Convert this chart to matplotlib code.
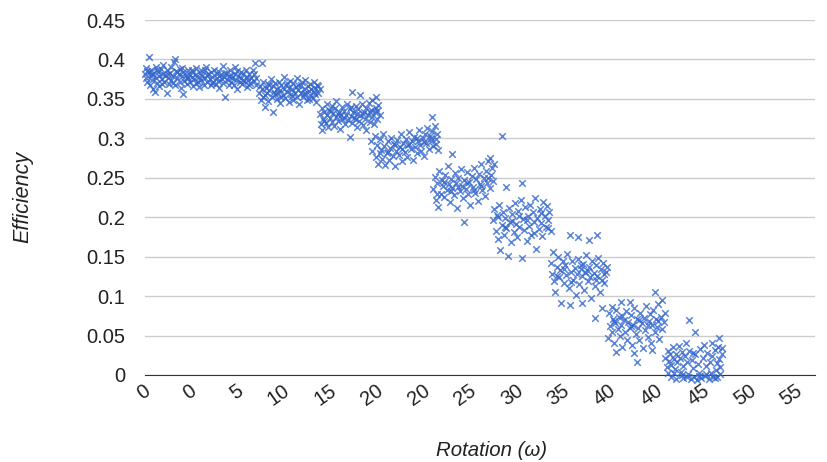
import matplotlib.pyplot as plt
import matplotlib.transforms as mtransforms
import numpy as np

plt.rcParams['font.family'] = ['Liberation Sans', 'DejaVu Sans']

# axis ticks / labels
x_ticks = [0, 4, 8, 12, 16, 20, 24, 28, 32, 36, 40, 44, 48, 52, 56]
x_tick_labels = ['0', '0', '5', '10', '15', '20', '20', '25', '30', '35',
                 '40', '40', '45', '50', '55']
y_ticks = [0, 0.05, 0.1, 0.15, 0.2, 0.25, 0.3, 0.35, 0.4, 0.45]
y_tick_labels = ['0', '0.05', '0.1', '0.15', '0.2', '0.25', '0.3', '0.35', '0.4', '0.45']

seg_a = [(0.0,0.381),(0.1,0.376),(0.1,0.389),(0.2,0.372),(0.3,0.403),(0.3,0.384),(0.4,0.368),(0.5,0.379),
         (0.5,0.386),(0.6,0.374),(0.7,0.363),(0.7,0.382),(0.8,0.359),(0.9,0.377),(0.9,0.391),(1.0,0.370),
         (1.1,0.384),(1.2,0.379),(1.2,0.366),(1.3,0.388),(1.4,0.375),(1.5,0.382),(1.5,0.393),(1.6,0.371),
         (1.7,0.380),(1.8,0.357),(1.8,0.386),(1.9,0.376),(2.0,0.369),(2.1,0.383),(2.2,0.390),(2.2,0.374),
         (2.3,0.379),(2.4,0.397),(2.5,0.401),(2.5,0.367),(2.6,0.385),(2.7,0.376),(2.8,0.381),(2.9,0.372),
         (2.9,0.388),(3.0,0.364),(3.1,0.379),(3.2,0.356),(3.2,0.384),(3.3,0.373),(3.4,0.380),(3.5,0.369),
         (3.6,0.386),(3.6,0.377),(3.7,0.382),(3.8,0.371),(3.9,0.378),(4.0,0.366),(4.0,0.384),(4.1,0.375),
         (4.2,0.380),(4.3,0.389),(4.4,0.372),(4.5,0.378),(4.5,0.365),(4.6,0.383),(4.7,0.374),(4.8,0.379),
         (4.9,0.368),(5.0,0.386),(5.0,0.376),(5.1,0.390),(5.2,0.371),(5.3,0.381),(5.4,0.375),(5.5,0.367),
         (5.5,0.384),(5.6,0.378),(5.7,0.372),(5.8,0.387),(5.9,0.369),(6.0,0.377),(6.0,0.382),(6.1,0.373),
         (6.2,0.364),(6.3,0.380),(6.4,0.375),(6.5,0.392),(6.5,0.370),(6.6,0.378),(6.7,0.353),(6.8,0.383),
         (6.9,0.374),(7.0,0.367),(7.0,0.379),(7.1,0.386),(7.2,0.372),(7.3,0.377),(7.4,0.368),(7.5,0.390),
         (7.5,0.381),(7.6,0.374),(7.7,0.362),(7.8,0.379),(7.9,0.371),(8.0,0.384),(8.0,0.376),(8.1,0.369),
         (8.2,0.381),(8.3,0.373),(8.4,0.387),(8.5,0.378),(8.5,0.365),(8.6,0.374),(8.7,0.382),(8.8,0.370),
         (8.9,0.377),(9.0,0.386),(9.1,0.373),(9.2,0.395),(9.3,0.368),
         (0.2,0.385),(0.6,0.381),(1.0,0.387),(1.4,0.369),(1.9,0.382),(2.3,0.370),(2.7,0.384),(3.1,0.389),
         (3.5,0.376),(3.9,0.386),(4.3,0.370),(4.7,0.386),(5.2,0.380),(5.6,0.370),(6.1,0.385),(6.6,0.383),
         (7.2,0.380),(7.7,0.385),(8.2,0.374),(8.7,0.367),(9.1,0.381),(9.3,0.377)]

seg_b = [(9.5,0.357),(9.6,0.366),(9.7,0.349),(9.8,0.396),(9.8,0.362),(9.9,0.371),(10.0,0.355),(10.0,0.340),
         (10.1,0.364),(10.2,0.358),(10.3,0.369),(10.3,0.347),(10.4,0.361),(10.5,0.375),(10.6,0.353),(10.7,0.366),
         (10.7,0.333),(10.8,0.359),(10.9,0.370),(11.0,0.350),(11.0,0.363),(11.1,0.357),(11.2,0.372),(11.3,0.361),
         (11.3,0.345),(11.4,0.367),(11.5,0.355),(11.6,0.378),(11.6,0.362),(11.7,0.351),(11.8,0.368),(11.9,0.359),
         (12.0,0.364),(12.0,0.346),(12.1,0.373),(12.2,0.356),(12.3,0.362),(12.4,0.349),(12.4,0.370),(12.5,0.358),
         (12.6,0.365),(12.7,0.376),(12.7,0.353),(12.8,0.361),(12.9,0.344),(13.0,0.367),(13.0,0.357),(13.1,0.371),
         (13.2,0.352),(13.3,0.363),(13.4,0.358),(13.4,0.374),(13.5,0.348),(13.6,0.366),(13.7,0.360),(13.8,0.355),
         (13.8,0.369),(13.9,0.362),(14.0,0.351),(14.1,0.372),(14.1,0.359),(14.2,0.364),(14.3,0.346),(14.4,0.368),
         (14.5,0.357),(14.6,0.362),
         (9.9,0.352),(10.4,0.368),(10.9,0.356),(11.4,0.352),(11.9,0.370),(12.3,0.354),(12.8,0.368),(13.3,0.356),
         (13.7,0.350),(14.2,0.356),(14.5,0.366)]

seg_c = [(14.6,0.331),(14.7,0.318),(14.8,0.311),(14.8,0.339),(14.9,0.325),(15.0,0.334),(15.1,0.320),(15.2,0.343),
         (15.2,0.329),(15.3,0.314),(15.4,0.336),(15.5,0.326),(15.6,0.341),(15.6,0.321),(15.7,0.332),(15.8,0.316),
         (15.9,0.338),(16.0,0.327),(16.0,0.347),(16.1,0.322),(16.2,0.333),(16.3,0.312),(16.4,0.329),(16.5,0.340),
         (16.5,0.324),(16.6,0.335),(16.7,0.318),(16.8,0.330),(16.9,0.344),(17.0,0.323),(17.1,0.302),(17.1,0.337),
         (17.2,0.328),(17.3,0.359),(17.3,0.319),(17.4,0.333),(17.5,0.326),(17.6,0.341),(17.7,0.315),(17.7,0.331),
         (17.8,0.337),(17.9,0.322),(18.0,0.355),(18.0,0.329),(18.1,0.343),(18.2,0.317),(18.3,0.334),(18.4,0.325),
         (18.5,0.339),(18.5,0.310),(18.6,0.330),(18.7,0.345),(18.8,0.321),(18.9,0.336),(19.0,0.327),(19.0,0.348),
         (19.1,0.318),(19.2,0.333),(19.3,0.353),(19.3,0.339),(19.4,0.324),(19.5,0.342),(19.6,0.330),
         (15.0,0.322),(15.5,0.335),(16.1,0.331),(16.6,0.326),(17.2,0.340),(17.6,0.324),(18.2,0.331),(18.8,0.333),
         (19.4,0.335)]

seg_d = [(18.9,0.297),(19.0,0.284),(19.2,0.303),(19.3,0.276),(19.4,0.291),(19.5,0.268),(19.6,0.299),(19.7,0.285),
         (19.8,0.274),(19.9,0.306),(20.0,0.290),(20.1,0.266),(20.2,0.281),(20.3,0.296),(20.4,0.272),(20.5,0.288),
         (20.6,0.301),(20.7,0.277),(20.8,0.293),(20.9,0.265),(21.0,0.284),(21.1,0.298),(21.2,0.279),(21.3,0.289),
         (21.4,0.305),(21.5,0.271),(21.6,0.294),(21.7,0.283),(21.8,0.299),(21.9,0.276),(22.0,0.291),(22.1,0.308),
         (22.2,0.286),(22.3,0.296),(22.4,0.273),(22.5,0.302),(22.6,0.289),(22.7,0.281),(22.8,0.297),(22.9,0.310),
         (23.0,0.292),(23.1,0.284),(23.2,0.300),(23.3,0.278),(23.4,0.306),(23.5,0.294),(23.6,0.313),(23.7,0.287),
         (23.8,0.303),(23.9,0.296),(24.0,0.327),(24.0,0.309),(24.1,0.290),(24.2,0.316),(24.3,0.299),(24.4,0.305),
         (24.5,0.285),
         (19.6,0.281),(20.3,0.283),(20.9,0.291),(21.5,0.287),(22.1,0.293),(22.7,0.301),(23.3,0.295),(23.9,0.301),
         (24.3,0.293)]

seg_e = [(24.1,0.236),(24.2,0.251),(24.3,0.222),(24.4,0.244),(24.5,0.213),(24.6,0.258),(24.7,0.230),(24.8,0.247),
         (24.9,0.239),(25.0,0.226),(25.1,0.254),(25.2,0.234),(25.3,0.265),(25.4,0.242),(25.5,0.219),(25.6,0.249),
         (25.7,0.280),(25.7,0.237),(25.8,0.228),(25.9,0.256),(26.0,0.243),(26.1,0.212),(26.2,0.250),(26.3,0.233),
         (26.4,0.261),(26.5,0.240),(26.6,0.225),(26.7,0.194),(26.7,0.247),(26.8,0.236),(26.9,0.257),(27.0,0.229),
         (27.1,0.245),(27.2,0.216),(27.3,0.252),(27.4,0.238),(27.5,0.263),(27.6,0.231),(27.7,0.248),(27.8,0.221),
         (27.9,0.255),(28.0,0.242),(28.1,0.268),(28.2,0.234),(28.3,0.250),(28.4,0.227),(28.5,0.259),(28.6,0.244),
         (28.7,0.271),(28.8,0.275),(28.8,0.237),(28.9,0.253),(29.0,0.262),(29.1,0.246),(29.2,0.267),
         (24.4,0.229),(25.0,0.245),(25.6,0.233),(26.2,0.238),(26.9,0.244),(27.5,0.235),(28.1,0.240),(28.7,0.250)]

seg_f = [(29.1,0.196),(29.2,0.211),(29.3,0.183),(29.4,0.203),(29.5,0.172),(29.6,0.215),(29.7,0.158),(29.8,0.303),
         (29.8,0.190),(29.9,0.207),(30.0,0.178),(30.1,0.199),(30.2,0.238),(30.2,0.186),(30.3,0.151),(30.4,0.212),
         (30.5,0.194),(30.6,0.169),(30.7,0.204),(30.8,0.181),(30.9,0.218),(31.0,0.192),(31.1,0.175),(31.2,0.208),
         (31.3,0.187),(31.4,0.222),(31.5,0.243),(31.5,0.148),(31.6,0.198),(31.7,0.184),(31.8,0.213),(31.9,0.170),
         (32.0,0.201),(32.1,0.189),(32.2,0.216),(32.3,0.178),(32.4,0.206),(32.5,0.194),(32.6,0.224),(32.7,0.160),
         (32.8,0.199),(32.9,0.185),(33.0,0.211),(33.1,0.193),(33.2,0.176),(33.3,0.219),(33.4,0.202),(33.5,0.188),
         (33.6,0.214),(33.7,0.197),(33.8,0.207),(33.9,0.183),
         (29.5,0.200),(30.1,0.188),(30.7,0.195),(31.3,0.201),(31.9,0.196),(32.5,0.180),(33.1,0.205),(33.7,0.186)]

seg_g = [(33.9,0.142),(34.0,0.128),(34.1,0.156),(34.2,0.119),(34.3,0.105),(34.4,0.137),(34.5,0.149),(34.6,0.124),
         (34.7,0.133),(34.8,0.091),(34.9,0.145),(35.0,0.116),(35.1,0.139),(35.2,0.127),(35.3,0.153),(35.4,0.110),
         (35.5,0.177),(35.5,0.089),(35.6,0.131),(35.7,0.144),(35.8,0.121),(35.9,0.136),(36.0,0.101),(36.1,0.128),
         (36.2,0.175),(36.2,0.147),(36.3,0.115),(36.4,0.134),(36.5,0.091),(36.5,0.125),(36.6,0.141),(36.7,0.108),
         (36.8,0.131),(36.9,0.152),(37.0,0.119),(37.1,0.171),(37.1,0.137),(37.2,0.124),(37.3,0.098),(37.4,0.144),
         (37.5,0.129),(37.6,0.072),(37.6,0.113),(37.7,0.139),(37.8,0.177),(37.8,0.126),(37.9,0.148),(38.0,0.105),
         (38.1,0.134),(38.2,0.085),(38.2,0.121),(38.3,0.142),(38.4,0.117),(38.5,0.130),(38.6,0.137),
         (34.4,0.125),(35.0,0.134),(35.6,0.118),(36.4,0.140),(37.0,0.132),(37.7,0.121),(38.4,0.128)]

seg_h = [(38.7,0.047),(38.8,0.078),(38.9,0.062),(39.0,0.086),(39.0,0.055),(39.1,0.071),(39.2,0.040),(39.3,0.066),
         (39.4,0.029),(39.4,0.082),(39.5,0.058),(39.6,0.074),(39.7,0.049),(39.8,0.093),(39.8,0.063),(39.9,0.036),
         (40.0,0.070),(40.1,0.055),(40.2,0.081),(40.3,0.044),(40.4,0.067),(40.5,0.093),(40.5,0.059),(40.6,0.076),
         (40.7,0.038),(40.8,0.064),(40.9,0.028),(40.9,0.085),(41.0,0.052),(41.1,0.016),(41.1,0.071),(41.2,0.060),
         (41.3,0.045),(41.4,0.079),(41.5,0.066),(41.6,0.034),(41.7,0.072),(41.8,0.057),(41.9,0.088),(42.0,0.048),
         (42.1,0.069),(42.2,0.077),(42.3,0.041),(42.4,0.032),(42.4,0.063),(42.5,0.083),(42.6,0.105),(42.6,0.054),
         (42.7,0.071),(42.8,0.061),(42.9,0.090),(43.0,0.046),(43.1,0.074),(43.2,0.095),(43.2,0.058),(43.4,0.067),
         (43.5,0.079),
         (39.2,0.068),(39.9,0.075),(40.6,0.062),(41.3,0.070),(42.0,0.063),(42.9,0.068)]

seg_i = [(43.5,0.021),(43.6,0.010),(43.7,0.031),(43.7,0.002),(43.8,0.018),(43.9,0.026),(44.0,-0.003),(44.0,0.013),
         (44.1,0.035),(44.2,0.020),(44.3,0.008),(44.4,0.027),(44.4,-0.005),(44.5,0.016),(44.6,0.037),(44.7,0.022),
         (44.8,0.004),(44.9,0.029),(45.0,0.012),(45.0,-0.004),(45.1,0.024),(45.2,0.041),(45.3,0.017),(45.4,0.001),
         (45.5,0.070),(45.5,0.030),(45.6,-0.005),(45.7,0.019),(45.8,0.009),(45.9,-0.002),(46.0,0.055),(46.0,0.026),
         (46.1,-0.006),(46.2,0.014),(46.3,0.003),(46.4,0.033),(46.5,-0.004),(46.6,0.021),(46.7,0.038),(46.8,-0.001),
         (46.9,0.011),(47.0,0.028),(47.1,-0.005),(47.2,0.017),(47.3,0.002),(47.4,0.040),(47.4,0.024),(47.5,-0.003),
         (47.6,0.032),(47.7,0.006),(47.8,0.015),(47.8,-0.002),(47.9,0.036),(48.0,0.047),(48.0,0.020),(48.1,0.001),
         (48.2,0.034),(48.2,0.027),
         (44.2,0.003),(44.9,0.000),(45.3,-0.003),(45.8,0.028),(46.3,-0.001),(46.9,0.001),(47.6,-0.004),(48.1,0.010)]

points = np.array(seg_a + seg_b + seg_c + seg_d + seg_e + seg_f + seg_g + seg_h + seg_i)
rotation = points[:, 0]
efficiency = points[:, 1]

fig = plt.figure(figsize=(8.27, 4.62), dpi=100)
ax = fig.add_axes([145 / 827, 1 - 375 / 462, 670 / 827, 355 / 462])

ax.scatter(rotation, efficiency, marker='x', s=22, linewidths=1.1,
           color='#3366cc', alpha=0.8, clip_on=False, zorder=3)

ax.set_xlim(0, 56)
ax.set_ylim(0, 0.45)
ax.set_yticks(y_ticks)
ax.set_yticklabels(y_tick_labels)
# slanted labels sit slightly tighter than the tick spacing in the original
ax.set_xticks(np.array(x_ticks) * 0.974)
ax.set_xticklabels(x_tick_labels, rotation=35, ha='right', va='center',
                   rotation_mode='anchor')

ax.grid(axis='y', color='#cccccc', linewidth=1)
ax.set_axisbelow(True)
for side in ['top', 'right', 'left']:
    ax.spines[side].set_visible(False)
ax.spines['bottom'].set_color('#333333')
ax.spines['bottom'].set_zorder(2)
ax.tick_params(length=0, labelsize=14.5, labelcolor='#222222')
ax.tick_params(axis='y', pad=14)
ax.tick_params(axis='x', pad=10)

shift = mtransforms.ScaledTranslation(3 / 100, 0, fig.dpi_scale_trans)
for lab in ax.get_xticklabels():
    lab.set_transform(lab.get_transform() + shift)

fig.text(492 / 827, 1 - 450 / 462, 'Rotation (\u03c9)', ha='center', va='center',
         fontsize=14.7, style='italic', color='#222222')
fig.text(23 / 827, 1 - 197 / 462, 'Efficiency', ha='center', va='center',
         rotation=90, fontsize=15.5, style='italic', color='#222222')

plt.savefig('out.png', dpi=100)
